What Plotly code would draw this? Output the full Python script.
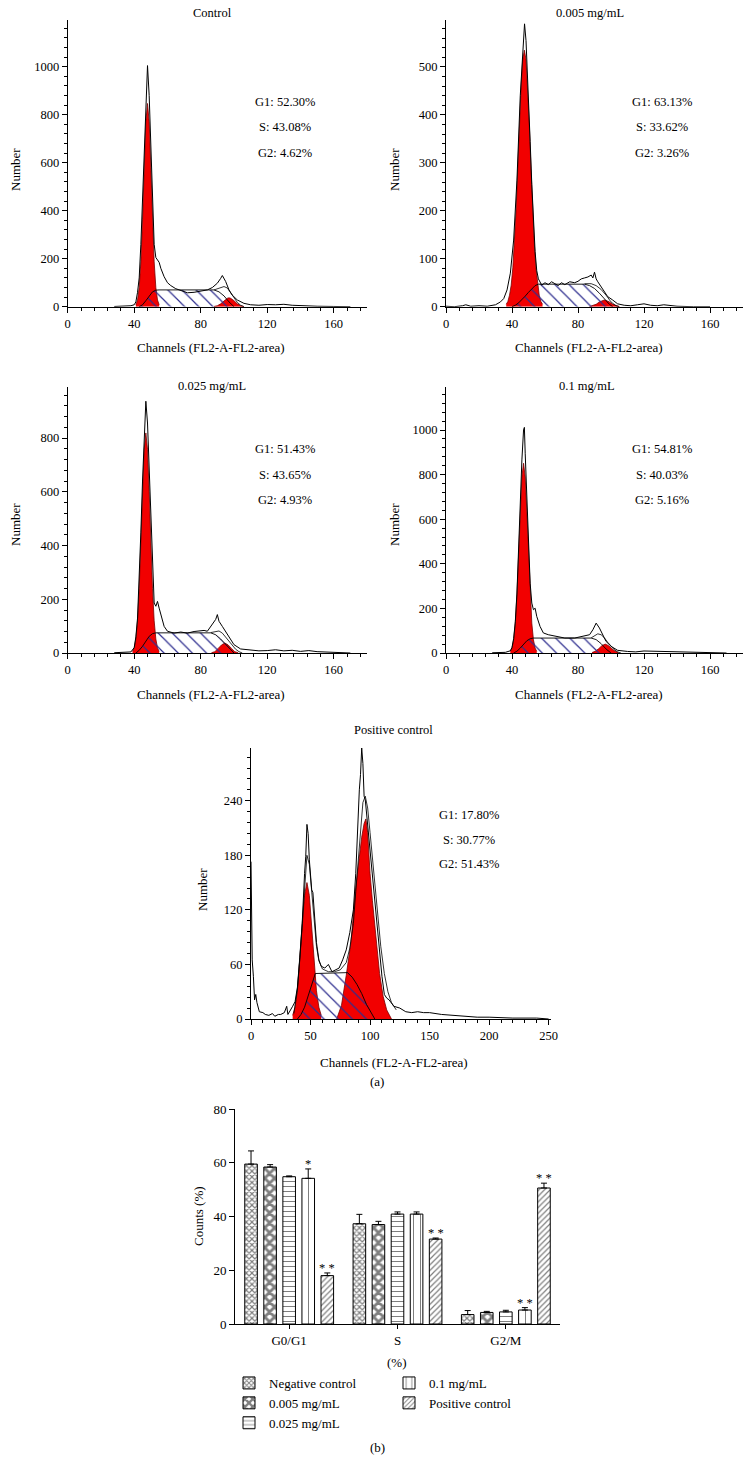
import plotly.graph_objects as go

W, H = 754, 1457
FONT = "Liberation Serif"
RED = "#f20000"
HATCH = "#2e2e8f"

# ---------------- (a) flow-cytometry histograms ----------------
# Control
ctrl_raw_ch = [28, 32, 36, 38, 40, 41, 42, 43, 44, 45, 46, 47, 48, 49, 50, 51, 52, 53, 54, 55, 56, 58, 60, 62, 65,
               68, 72, 76, 80, 84, 87, 90, 92, 93, 95, 97, 99, 102, 106, 110, 115, 120, 125, 130, 135, 140, 150, 160, 170]
ctrl_raw_n = [1, 2, 3, 4, 8, 20, 60, 120, 260, 450, 660, 860, 1005, 880, 640, 420, 260, 205, 195, 185, 160, 125, 100, 88, 75,
              68, 58, 60, 64, 70, 80, 98, 118, 130, 105, 70, 48, 28, 14, 8, 6, 9, 8, 10, 6, 4, 2, 1, 0]
ctrl_g1_ch = [41, 42, 43, 44, 45, 46, 47, 48, 49, 50, 51, 52, 53, 54, 55]
ctrl_g1_n = [8, 28, 80, 187, 362, 580, 771, 847, 771, 580, 362, 187, 80, 28, 8]
ctrl_g2_ch = [88, 90, 92, 94, 96, 97, 98, 100, 102, 104, 106]
ctrl_g2_n = [1, 4, 12, 25, 35, 37, 35, 25, 12, 4, 1]
ctrl_s_ch = [43, 45, 47, 49, 51, 53, 55, 88, 91, 94, 97, 100]
ctrl_s_n = [0, 8, 25, 45, 62, 69, 70, 70, 62, 45, 20, 0]
ctrl_fit_ch = [88, 91, 94, 96, 98, 100, 102, 104, 106]
ctrl_fit_n = [70, 78, 84, 78, 58, 36, 18, 6, 0]

# 0.005 mg/mL
d005_raw_ch = [0, 5, 10, 12, 15, 20, 25, 28, 30, 33, 35, 37, 39, 41, 43, 45, 46, 47, 47.6, 48.5, 50, 51, 52, 53, 54,
               55, 56, 58, 60, 62, 64, 66, 68, 70, 72, 75, 78, 80, 82, 84, 86, 88, 89, 90, 91, 92, 95, 98, 101, 104,
               108, 112, 116, 120, 124, 128, 132, 136, 140, 150, 160]
d005_raw_n = [1, 0, 2, 4, 1, 2, 1, 3, 4, 10, 17, 35, 70, 139, 264, 440, 505, 570, 590, 555, 445, 345, 255, 175, 115,
              75, 58, 45, 50, 46, 52, 48, 44, 50, 46, 52, 50, 53, 58, 60, 62, 66, 60, 72, 58, 52, 35, 21, 14, 6,
              3, 2, 4, 6, 3, 2, 4, 2, 1, 0, 0]
d005_g1_ch = [36.5, 37.5, 38.5, 39.5, 40.5, 41.5, 42.5, 43.5, 44.5, 45.5, 46.5, 47.5, 48.5, 49.5, 50.5, 51.5, 52.5,
              53.5, 54.5, 55.5, 56.5, 57.5, 58.5]
d005_g1_n = [5, 11, 24, 45, 81, 133, 204, 288, 378, 458, 515, 535, 515, 458, 378, 288, 204, 133, 81, 45, 24, 11, 5]
d005_g2_ch = [87, 89, 91, 93, 95, 96, 97, 99, 101, 103, 105]
d005_g2_n = [0.5, 2, 5, 10, 13, 14, 13, 10, 5, 2, 0.5]
d005_s_ch = [40, 42, 44, 46, 48, 50, 52, 54, 56, 84, 87, 90, 93, 96, 99, 101]
d005_s_n = [0, 3, 8, 14, 22, 30, 38, 44, 47, 47, 44, 38, 28, 16, 5, 0]
d005_fit_ch = [84, 88, 91, 94, 97, 100, 103, 105]
d005_fit_n = [48, 48, 44, 36, 24, 10, 2, 0]

# 0.025 mg/mL
d025_raw_ch = [28, 32, 36, 38, 40, 41, 42, 43, 44, 45, 46, 47, 48, 49, 50, 51, 52, 53, 54, 55, 56, 58, 60, 64, 68,
               72, 76, 80, 82, 84, 86, 88, 89, 90, 91, 93, 96, 98, 100, 104, 110, 115, 120, 125, 130, 135, 140, 145,
               150, 155, 160, 165, 170]
d025_raw_n = [1, 2, 3, 4, 20, 60, 130, 270, 450, 640, 794, 937, 856, 680, 490, 300, 186, 174, 192, 167, 143, 99, 81,
              74, 78, 74, 80, 81, 84, 81, 99, 118, 125, 143, 118, 99, 68, 50, 31, 15, 10, 8, 9, 12, 8, 10, 6, 9, 5,
              4, 2, 1, 0]
d025_g1_ch = [39, 40, 41, 42, 43, 44, 45, 46, 47, 48, 49, 50, 51, 52, 53, 54, 55]
d025_g1_n = [6, 19, 52, 120, 239, 410, 602, 758, 819, 758, 602, 410, 239, 120, 52, 19, 6]
d025_g2_ch = [86.5, 88.5, 90.5, 92.5, 94.5, 96.5, 98.5, 100.5, 102.5]
d025_g2_n = [1, 5, 17, 30, 37, 30, 17, 5, 1]
d025_s_ch = [41, 43, 45, 47, 49, 51, 53, 86, 89, 92, 95, 98, 100]
d025_s_n = [0, 10, 25, 45, 62, 72, 75, 75, 68, 52, 32, 12, 0]
d025_fit_ch = [86, 89, 91, 93, 95, 97, 99, 101, 103, 105]
d025_fit_n = [76, 80, 82, 74, 60, 44, 28, 14, 5, 0]

# 0.1 mg/mL
d1_raw_ch = [28, 32, 36, 39, 40, 41, 42, 43, 44, 45, 46, 47, 47.5, 48, 49, 50, 51, 52, 53, 54, 55, 57, 59, 62, 66,
             72, 78, 84, 87, 89, 91, 93, 95, 97, 100, 104, 110, 115, 120, 125, 130, 140, 150, 160, 170]
d1_raw_n = [1, 2, 3, 10, 25, 65, 140, 269, 478, 672, 866, 1000, 1012, 896, 701, 493, 313, 224, 194, 201, 164, 119, 90,
            82, 75, 67, 67, 75, 82, 104, 134, 112, 82, 52, 30, 12, 7, 5, 9, 8, 7, 4, 2, 1, 0]
d1_g1_ch = [39, 40, 41, 42, 43, 44, 45, 46, 47, 48, 49, 50, 51, 52, 53, 54, 55]
d1_g1_n = [7, 22, 59, 134, 261, 437, 633, 790, 851, 790, 633, 437, 261, 134, 59, 22, 7]
d1_g2_ch = [88.5, 90.5, 92.5, 94.5, 96.5, 98.5, 100.5, 102.5, 104.5]
d1_g2_n = [2, 8, 19, 33, 40, 33, 19, 8, 2]
d1_s_ch = [41, 43, 45, 47, 49, 51, 53, 88, 91, 94, 97, 100]
d1_s_n = [0, 8, 22, 40, 55, 64, 67, 67, 60, 42, 18, 0]
d1_fit_ch = [88, 90, 92, 94, 96, 98, 100, 102, 104, 106]
d1_fit_n = [68, 78, 86, 82, 68, 48, 30, 15, 5, 0]

# Positive control
pos_raw_ch = [0, 0.5, 1, 2, 3, 4, 5, 7, 10, 12, 15, 18, 20, 23, 25, 28, 30, 31, 33, 35, 37, 39, 41, 43, 45, 46, 47,
              48, 49, 50, 51, 52, 53, 55, 57, 59, 62, 65, 68, 71, 74, 77, 80, 83, 86, 88, 89, 90, 91, 92, 93, 94, 95,
              96, 98, 100, 102, 104, 106, 108, 110, 112, 114, 116, 118, 120, 125, 130, 135, 140, 145, 150, 160, 170,
              180, 190, 200, 220, 240, 250]
pos_raw_n = [173, 90, 65, 47, 21, 27, 18, 8, 7, 5, 4, 6, 3, 5, 5, 7, 14, 5, 9, 14, 19, 35, 68, 105, 160, 179, 214,
             204, 175, 157, 142, 139, 117, 84, 65, 58, 56, 60, 52, 54, 56, 65, 76, 95, 120, 160, 193, 230, 252, 269,
             298, 281, 245, 241, 212, 190, 160, 131, 102, 73, 47, 27, 23, 21, 18, 14, 12, 8, 7, 8, 7, 7, 5, 4, 3, 2,
             2, 1, 1, 0]
pos_g1_ch = [35, 37, 39, 41, 43, 45, 47, 49, 51, 53, 55, 57, 59]
pos_g1_n = [4, 13, 31, 62, 101, 136, 150, 136, 101, 62, 31, 13, 4]
pos_g2_ch = [72, 76, 80, 84, 88, 91, 93, 95, 96.5, 98, 100, 102, 104, 106, 108, 111, 114, 118]
pos_g2_n = [0, 15, 48, 85, 145, 180, 200, 215, 220, 205, 160, 130, 105, 78, 50, 25, 10, 0]
pos_s_ch = [39, 42, 45, 48, 51, 54, 81, 85, 89, 93, 97, 101, 104]
pos_s_n = [0, 5, 13, 25, 38, 50, 51, 46, 38, 28, 16, 6, 0]
pos_fit_ch = [36, 39, 41, 43, 45, 47, 49, 51, 53, 55, 57, 60, 65, 70, 75, 80, 83, 86, 88, 90, 92, 94, 96, 98, 100,
              103, 106, 109, 112, 115, 118, 122]
pos_fit_n = [6, 33, 66, 108, 150, 180, 170, 140, 105, 80, 64, 55, 52, 52, 54, 62, 78, 105, 140, 175, 210, 238, 245,
             232, 205, 165, 120, 80, 50, 30, 18, 10]

panel_titles = ["Control", "0.005 mg/mL", "0.025 mg/mL", "0.1 mg/mL", "Positive control"]
panel_stats = [
    ["G1: 52.30%", "S: 43.08%", "G2: 4.62%"],
    ["G1: 63.13%", "S: 33.62%", "G2: 3.26%"],
    ["G1: 51.43%", "S: 43.65%", "G2: 4.93%"],
    ["G1: 54.81%", "S: 40.03%", "G2: 5.16%"],
    ["G1: 17.80%", "S: 30.77%", "G2: 51.43%"],
]
x_label = "Channels (FL2-A-FL2-area)"
y_label = "Number"

# ---------------- (b) bar chart ----------------
phases = ["G0/G1", "S", "G2/M"]
group_names = ["Negative control", "0.005 mg/mL", "0.025 mg/mL", "0.1 mg/mL", "Positive control"]
neg_mean = [59.5, 37.3, 3.5]
neg_err = [4.9, 3.5, 1.5]
d005_mean = [58.4, 37.0, 4.3]
d005_err = [0.9, 1.2, 0.4]
d025_mean = [54.8, 40.9, 4.5]
d025_err = [0.3, 0.8, 0.6]
d1_mean = [54.2, 40.9, 5.2]
d1_err = [3.5, 0.8, 0.9]
pos_mean = [18.0, 31.6, 50.6]
pos_err = [1.0, 0.4, 1.8]
d1_sig = ["*", "", "* *"]
pos_sig = ["* *", "* *", "* *"]


# ---------------- helpers ----------------
def dx(a, b):
    return [a / W, b / W]


def dy(top, bottom):
    return [1 - bottom / H, 1 - top / H]


def pxx(p):
    return p / W


def pxy(p):
    return 1 - p / H


fig = go.Figure()
annotations = []


def text(t, x, y, size=12, angle=0):
    annotations.append(dict(text=t, x=pxx(x), y=pxy(y), xref="paper", yref="paper", showarrow=False,
                            xanchor="center", yanchor="middle", textangle=angle,
                            font=dict(family=FONT, size=size, color="black")))


layout_axes = {}


def axis_common(size=12.5):
    return dict(showline=True, linecolor="black", linewidth=1, ticks="outside", ticklen=5, tickwidth=1,
                tickcolor="black", showgrid=False, zeroline=False,
                tickfont=dict(family=FONT, size=size, color="black"))


hist_data = [
    (ctrl_raw_ch, ctrl_raw_n, ctrl_g1_ch, ctrl_g1_n, ctrl_g2_ch, ctrl_g2_n, ctrl_s_ch, ctrl_s_n, ctrl_fit_ch, ctrl_fit_n),
    (d005_raw_ch, d005_raw_n, d005_g1_ch, d005_g1_n, d005_g2_ch, d005_g2_n, d005_s_ch, d005_s_n, d005_fit_ch, d005_fit_n),
    (d025_raw_ch, d025_raw_n, d025_g1_ch, d025_g1_n, d025_g2_ch, d025_g2_n, d025_s_ch, d025_s_n, d025_fit_ch, d025_fit_n),
    (d1_raw_ch, d1_raw_n, d1_g1_ch, d1_g1_n, d1_g2_ch, d1_g2_n, d1_s_ch, d1_s_n, d1_fit_ch, d1_fit_n),
    (pos_raw_ch, pos_raw_n, pos_g1_ch, pos_g1_n, pos_g2_ch, pos_g2_n, pos_s_ch, pos_s_n, pos_fit_ch, pos_fit_n),
]

# layout per panel (pixels): x domain, y domain, x range/dtick/minor, y range/dtick/minor, text positions
panel_geom = [
    dict(xd=(67.7, 367), yd=(20, 306.7), xr=[0, 180], xdt=40, xmn=8, yr=[0, 1195], ydt=200, ymn=40,
         title=(212, 13), stats=(285, [102, 127, 153]), ylab=(15, 170), xlab=(211, 348)),
    dict(xd=(446, 743), yd=(20, 306.7), xr=[0, 180], xdt=40, xmn=8, yr=[0, 598], ydt=100, ymn=20,
         title=(590, 13), stats=(662, [102, 127, 153]), ylab=(394, 170), xlab=(589, 348)),
    dict(xd=(67.7, 367), yd=(387, 653), xr=[0, 180], xdt=40, xmn=8, yr=[0, 990], ydt=200, ymn=40,
         title=(212, 386), stats=(285, [449, 475, 500]), ylab=(15, 525), xlab=(211, 695)),
    dict(xd=(446, 743), yd=(387, 653), xr=[0, 180], xdt=40, xmn=8, yr=[0, 1193], ydt=200, ymn=40,
         title=(587, 386), stats=(662, [449, 475, 500]), ylab=(394, 525), xlab=(589, 695)),
    dict(xd=(251, 551), yd=(748, 1019), xr=[0, 252], xdt=50, xmn=10, yr=[0, 298], ydt=60, ymn=12,
         title=(393, 730), stats=(469, [815, 840, 864]), ylab=(202, 890), xlab=(394, 1062)),
]

for i, (data, g) in enumerate(zip(hist_data, panel_geom), start=1):
    raw_x, raw_y, g1_x, g1_y, g2_x, g2_y, s_x, s_y, f_x, f_y = data
    xa = "x" if i == 1 else f"x{i}"
    ya = "y" if i == 1 else f"y{i}"
    common = dict(xaxis=xa, yaxis=ya, showlegend=False, hoverinfo="skip", mode="lines")
    fig.add_trace(go.Scatter(x=g1_x, y=g1_y, fill="tozeroy", fillcolor=RED,
                             line=dict(color="#7a0000", width=0.8), **common))
    fig.add_trace(go.Scatter(x=g2_x, y=g2_y, fill="tozeroy", fillcolor=RED,
                             line=dict(color="#7a0000", width=0.8), **common))
    fig.add_trace(go.Scatter(x=s_x, y=s_y, fill="tozeroy", fillcolor="rgba(0,0,0,0)",
                             fillpattern=dict(shape="\\", fgcolor=HATCH, bgcolor="rgba(0,0,0,0)",
                                              size=10, solidity=0.12, fillmode="replace"),
                             line=dict(color="black", width=0.9), **common))
    fig.add_trace(go.Scatter(x=f_x, y=f_y, line=dict(color="black", width=0.8), **common))
    fig.add_trace(go.Scatter(x=raw_x, y=raw_y, line=dict(color="black", width=1), **common))

    xk = "xaxis" if i == 1 else f"xaxis{i}"
    yk = "yaxis" if i == 1 else f"yaxis{i}"
    xax = axis_common()
    xax.update(domain=dx(*g["xd"]), range=g["xr"], anchor=ya, tick0=0, dtick=g["xdt"],
               minor=dict(dtick=g["xmn"], tick0=0, ticks="outside", ticklen=3, tickcolor="black"))
    yax = axis_common()
    yax.update(domain=dy(*g["yd"]), range=g["yr"], anchor=xa, tick0=0, dtick=g["ydt"],
               minor=dict(dtick=g["ymn"], tick0=0, ticks="outside", ticklen=3, tickcolor="black"))
    layout_axes[xk] = xax
    layout_axes[yk] = yax

    text(panel_titles[i - 1], *g["title"], size=12.5)
    sx, sys_ = g["stats"]
    for t, yy in zip(panel_stats[i - 1], sys_):
        text(t, sx, yy, size=12.5)
    text(y_label, *g["ylab"], size=13, angle=-90)
    text(x_label, *g["xlab"], size=13)

text("(a)", 377, 1081, size=13)
text("(b)", 377, 1447, size=13)

# ---------------- bar chart ----------------
bar_means = [neg_mean, d005_mean, d025_mean, d1_mean, pos_mean]
bar_errs = [neg_err, d005_err, d025_err, d1_err, pos_err]
bar_patterns = [
    dict(shape="x", size=4, solidity=0.5),
    dict(shape="x", size=7, solidity=0.65),
    dict(shape="-", size=5, solidity=0.2),
    dict(shape="|", size=7, solidity=0.15),
    dict(shape="/", size=4, solidity=0.3),
]
bar_legends = ["legend", "legend", "legend", "legend2", "legend2"]

for name, m, e, pat, lg in zip(group_names, bar_means, bar_errs, bar_patterns, bar_legends):
    fig.add_trace(go.Bar(
        x=phases, y=m, name=name, xaxis="x6", yaxis="y6", legend=lg,
        marker=dict(color="white", line=dict(color="black", width=1),
                    pattern=dict(fgcolor="black", bgcolor="white", fillmode="overlay", **pat)),
        error_y=dict(type="data", symmetric=False, array=e, arrayminus=[0] * len(e),
                     color="black", thickness=1, width=3),
        hoverinfo="skip",
    ))

xb = axis_common(13)
xb.update(domain=dx(235, 560), type="category", range=[-0.5, 2.5], anchor="y6", ticklen=4)
yb = axis_common(13)
yb.update(domain=dy(1109, 1324), range=[0, 80], dtick=20, anchor="x6")
layout_axes["xaxis6"] = xb
layout_axes["yaxis6"] = yb

# significance marks (trace index 3 = 0.1 mg/mL, index 4 = positive control)
slot_px = (325 / 3) * (1 - 0.12) / 5
for k, (sig, m, e) in [(3, (d1_sig, d1_mean, d1_err)), (4, (pos_sig, pos_mean, pos_err))]:
    for ci, (s, mv, ev) in enumerate(zip(sig, m, e)):
        if not s:
            continue
        annotations.append(dict(text=s, x=ci, y=mv + ev, xref="x6", yref="y6", showarrow=False,
                                xanchor="center", yanchor="middle", xshift=(k - 2) * slot_px, yshift=5,
                                font=dict(family=FONT, size=12.5, color="black")))

text("Counts (%)", 198, 1216, size=13, angle=-90)
text("(%)", 397, 1362, size=13)

fig.update_layout(
    width=W, height=H, margin=dict(l=0, r=0, t=0, b=0, autoexpand=False),
    plot_bgcolor="white", paper_bgcolor="white",
    barmode="group", bargap=0.12, bargroupgap=0.34,
    annotations=annotations,
    legend=dict(x=pxx(229), y=pxy(1368), xanchor="left", yanchor="top", bgcolor="rgba(0,0,0,0)",
                font=dict(family=FONT, size=13, color="black"), itemwidth=30, traceorder="normal"),
    legend2=dict(x=pxx(389), y=pxy(1368), xanchor="left", yanchor="top", bgcolor="rgba(0,0,0,0)",
                 font=dict(family=FONT, size=13, color="black"), itemwidth=30, traceorder="normal"),
    **layout_axes,
)

fig.write_html("out.html", config={"displayModeBar": False},
               post_script="document.body.style.margin='0px';document.body.style.overflow='hidden';")
